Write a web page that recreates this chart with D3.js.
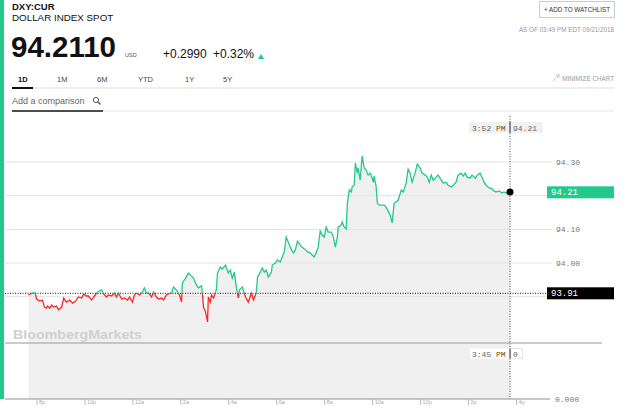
<!DOCTYPE html>
<html>
<head>
<meta charset="utf-8">
<script src="https://cdn.jsdelivr.net/npm/d3@7"></script>
<style>
  body { margin: 0; background: #fff; }
  svg { display: block; font-family: "Liberation Sans", Arial, sans-serif; }
</style>
</head>
<body>
<script>
const width = 640;
const height = 415;

// minutes after 8:00 PM on 09/20/2018
const minutes = [
  -20, -10, -3, 0, 8, 15, 20, 25, 28, 33, 38, 43, 50, 55, 63, 68, 75, 83, 90, 98,
  105, 113, 118, 125, 130, 138, 145, 153, 163, 168, 175, 180, 188, 195, 200, 205, 213, 220, 228, 233,
  240, 245, 250, 258, 265, 270, 275, 280, 288, 293, 300, 305, 313, 318, 325, 330, 338, 343, 350, 358,
  363, 365, 373, 380, 388, 393, 400, 405, 413, 415, 418, 423, 428, 430, 435, 438, 443, 450, 453, 460,
  465, 473, 480, 485, 490, 495, 500, 505, 508, 515, 523, 530, 538, 543, 550, 553, 560, 565, 570, 575,
  580, 588, 590, 598, 603, 610, 615, 620, 625, 630, 638, 643, 648, 653, 660, 665, 673, 678, 685, 690,
  695, 700, 705, 710, 715, 720, 725, 730, 738, 743, 748, 753, 755, 763, 765, 770, 775, 778, 783, 788,
  790, 795, 798, 803, 805, 810, 813, 815, 820, 825, 830, 835, 840, 843, 845, 850, 853, 858, 865, 870,
  875, 880, 885, 890, 895, 900, 905, 913, 918, 925, 930, 935, 940, 948, 953, 960, 965, 973, 978, 983,
  988, 993, 1000, 1005, 1013, 1018, 1025, 1030, 1038, 1043, 1050, 1055, 1063, 1068, 1073, 1078, 1085, 1090, 1098, 1103,
  1110, 1115, 1120, 1125, 1133, 1140, 1145, 1150, 1158, 1165, 1170, 1175, 1185
];

const prices = [
  93.905, 93.911, 93.911, 93.893, 93.887, 93.890, 93.869, 93.866, 93.872, 93.866, 93.875, 93.869, 93.872, 93.861, 93.869, 93.896, 93.884, 93.890, 93.881, 93.887,
  93.899, 93.896, 93.908, 93.902, 93.902, 93.890, 93.902, 93.914, 93.920, 93.908, 93.899, 93.905, 93.902, 93.911, 93.899, 93.911, 93.893, 93.896, 93.890, 93.899,
  93.884, 93.905, 93.911, 93.905, 93.914, 93.926, 93.911, 93.911, 93.899, 93.914, 93.899, 93.893, 93.896, 93.890, 93.905, 93.908, 93.911, 93.929, 93.920, 93.905,
  93.884, 93.941, 93.955, 93.970, 93.961, 93.955, 93.935, 93.926, 93.932, 93.911, 93.869, 93.855, 93.825, 93.899, 93.884, 93.905, 93.896, 93.920, 93.970, 93.988,
  93.982, 93.994, 93.970, 93.979, 93.955, 93.973, 93.929, 93.896, 93.920, 93.929, 93.899, 93.884, 93.911, 93.890, 93.911, 93.958, 93.973, 93.985, 93.973, 93.979,
  93.958, 93.973, 93.994, 94.000, 94.009, 94.003, 94.018, 94.033, 94.077, 94.062, 94.039, 94.030, 94.039, 94.065, 94.053, 94.047, 94.039, 94.033, 94.030, 94.024,
  94.018, 94.030, 94.047, 94.095, 94.083, 94.077, 94.107, 94.092, 94.092, 94.077, 94.047, 94.077, 94.107, 94.113, 94.122, 94.107, 94.101, 94.178, 94.217, 94.211,
  94.226, 94.231, 94.297, 94.267, 94.282, 94.246, 94.291, 94.318, 94.282, 94.276, 94.261, 94.267, 94.252, 94.240, 94.258, 94.226, 94.178, 94.172, 94.172, 94.172,
  94.166, 94.154, 94.142, 94.119, 94.178, 94.181, 94.187, 94.217, 94.211, 94.237, 94.279, 94.267, 94.240, 94.270, 94.294, 94.282, 94.267, 94.261, 94.255, 94.240,
  94.261, 94.246, 94.255, 94.261, 94.246, 94.237, 94.240, 94.231, 94.226, 94.231, 94.240, 94.261, 94.267, 94.258, 94.267, 94.255, 94.252, 94.261, 94.252, 94.261,
  94.267, 94.255, 94.240, 94.231, 94.223, 94.220, 94.214, 94.211, 94.214, 94.208, 94.211, 94.208, 94.211
];

const previousClose = 93.91;
const lastPrice = 94.21;
const priceTicks = [93.9, 94.0, 94.1, 94.2, 94.3];
const tabs = ["1D", "1M", "6M", "YTD", "1Y", "5Y"];
const tabX = [18, 57, 97, 138, 185, 223];

const start = new Date(2018, 8, 20, 20, 0);
const datos = minutes.map((m, i) => ({ t: d3.timeMinute.offset(start, m), p: prices[i] }));
const cursorTime = new Date(2018, 8, 21, 15, 45);

const green = "#22c98b";
const red = "#ff2424";

const svg = d3.select("body").append("svg").attr("width", width).attr("height", height);

const x = d3
  .scaleTime()
  .domain([new Date(2018, 8, 20, 20, 0), new Date(2018, 8, 21, 16, 0)])
  .range([36.5, 516]);

const y = d3.scaleLinear().domain([94.0, 94.3]).range([263, 162]);

const axisY = 399;
const cx = x(cursorTime);
const yClose = y(previousClose);

// left accent bar
svg.append("rect").attr("x", 0).attr("y", 0).attr("width", 4).attr("height", axisY).attr("fill", green);

// ---- header ----
svg.append("text").attr("x", 12).attr("y", 10).attr("font-size", 9.5).attr("font-weight", "bold").attr("fill", "#111").text("DXY:CUR");
svg.append("text").attr("x", 12).attr("y", 21).attr("font-size", 9.8).attr("fill", "#111").text("DOLLAR INDEX SPOT");
svg.append("text").attr("x", 11).attr("y", 57).attr("font-size", 29.5).attr("font-weight", "bold").attr("fill", "#111").text("94.2110");
svg.append("text").attr("x", 125).attr("y", 57).attr("font-size", 5.5).attr("fill", "#555").text("USD");
svg.append("text").attr("x", 163).attr("y", 58).attr("font-size", 12).attr("fill", "#111").text("+0.2990");
svg.append("text").attr("x", 213).attr("y", 58).attr("font-size", 12).attr("fill", "#111").text("+0.32%");
svg.append("path").attr("d", "M258,59L261,54L264,59Z").attr("fill", green);

svg.append("rect").attr("x", 539.5).attr("y", 1.5).attr("width", 75).attr("height", 16)
  .attr("fill", "#fff").attr("stroke", "#ccc");
svg.append("text").attr("x", 577).attr("y", 12).attr("text-anchor", "middle").attr("font-size", 6.3).attr("fill", "#333").text("+ ADD TO WATCHLIST");
svg.append("text").attr("x", 614).attr("y", 32).attr("text-anchor", "end").attr("font-size", 6.3).attr("fill", "#999").text("AS OF 03:49 PM EDT 09/21/2018");

svg.selectAll(".tab").data(tabs).enter().append("text")
  .attr("x", (d, i) => tabX[i]).attr("y", 82).attr("font-size", 7.5)
  .attr("fill", (d, i) => (i === 0 ? "#111" : "#444"))
  .attr("font-weight", (d, i) => (i === 0 ? "bold" : "normal"))
  .text((d) => d);

svg.append("text").attr("x", 614).attr("y", 81).attr("text-anchor", "end").attr("font-size", 6.3).attr("fill", "#999").text("MINIMIZE CHART");
svg.append("path").attr("d", "M553,81L556,78M557,77L560,74M557,74L557,77L560,77").attr("stroke", "#aaa").attr("stroke-width", 0.7).attr("fill", "none");

svg.append("line").attr("x1", 33).attr("x2", 614).attr("y1", 88).attr("y2", 88).attr("stroke", "#ddd");
svg.append("line").attr("x1", 12).attr("x2", 33).attr("y1", 88).attr("y2", 88).attr("stroke", "#111").attr("stroke-width", 2);

svg.append("text").attr("x", 12).attr("y", 104).attr("font-size", 9).attr("fill", "#666").text("Add a comparison");
svg.append("circle").attr("cx", 96).attr("cy", 100).attr("r", 2.6).attr("fill", "none").attr("stroke", "#555").attr("stroke-width", 1);
svg.append("line").attr("x1", 98).attr("y1", 102).attr("x2", 100.5).attr("y2", 104.5).attr("stroke", "#555").attr("stroke-width", 1.2);

svg.append("line").attr("x1", 103).attr("x2", 614).attr("y1", 111).attr("y2", 111).attr("stroke", "#e5e5e5");
svg.append("line").attr("x1", 12).attr("x2", 103).attr("y1", 111).attr("y2", 111).attr("stroke", "#111").attr("stroke-width", 1.5);

// ---- chart ----
svg.append("path")
  .datum(datos.filter((d) => d.t <= cursorTime))
  .attr("fill", "#f0f0f0")
  .attr("d", d3.area().x((d) => x(d.t)).y0(axisY).y1((d) => y(d.p)));

svg.selectAll(".grid").data(priceTicks).enter().append("line")
  .attr("x1", 5).attr("x2", 552).attr("y1", (d) => y(d)).attr("y2", (d) => y(d))
  .attr("stroke", "#e3e3e3");

// labels hidden behind the price flags are left out
svg.selectAll(".ylabel")
  .data(priceTicks.filter((d) => Math.abs(y(d) - y(lastPrice)) > 10 && Math.abs(y(d) - yClose) > 10))
  .enter().append("text")
  .attr("x", 556).attr("y", (d) => y(d) + 3)
  .attr("font-family", "Liberation Mono, monospace").attr("font-size", 8).attr("fill", "#777")
  .text((d) => d.toFixed(2));

svg.append("text").attr("x", 13).attr("y", 339).attr("font-size", 13.5).attr("font-weight", "bold")
  .attr("fill", "#d0d0d0").attr("textLength", 129).attr("lengthAdjust", "spacingAndGlyphs").text("BloombergMarkets");

// previous close
svg.append("line").attr("x1", 5).attr("x2", 547).attr("y1", yClose).attr("y2", yClose)
  .attr("stroke", "#111").attr("stroke-dasharray", "1,1.5");

const defs = svg.append("defs");
defs.append("clipPath").attr("id", "arriba").append("rect").attr("x", 0).attr("y", 0).attr("width", width).attr("height", yClose);
defs.append("clipPath").attr("id", "abajo").append("rect").attr("x", 0).attr("y", yClose).attr("width", width).attr("height", height - yClose);

const linea = d3.line().x((d) => x(d.t)).y((d) => y(d.p));
[["arriba", green], ["abajo", red]].forEach(([id, color]) => {
  svg.append("path").datum(datos).attr("d", linea).attr("fill", "none")
    .attr("stroke", color).attr("stroke-width", 1.3).attr("clip-path", `url(#${id})`);
});

// lower panel separator and x axis
svg.append("line").attr("x1", 5).attr("x2", 602).attr("y1", 343).attr("y2", 343).attr("stroke", "#999");
svg.append("line").attr("x1", 5).attr("x2", 550).attr("y1", axisY).attr("y2", axisY).attr("stroke", "#b5b5b5").attr("stroke-width", 1.5);

const ejeX = svg.append("g").attr("transform", `translate(0,${axisY})`)
  .call(
    d3.axisBottom(x)
      .ticks(d3.timeHour.every(2))
      .tickSize(6)
      .tickFormat((d) => (d.getHours() % 12 || 12) + (d.getHours() < 12 ? "a" : "p"))
  );
ejeX.select(".domain").remove();
ejeX.selectAll("line").attr("stroke", "#bbb");
ejeX.selectAll("text").attr("text-anchor", "start").attr("x", 2).attr("y", 1).attr("dy", "0.71em")
  .attr("font-size", 5.5).attr("font-family", "Liberation Sans, Arial, sans-serif").attr("fill", "#aaa");

svg.append("text").attr("x", 555).attr("y", 402).attr("font-family", "Liberation Mono, monospace")
  .attr("font-size", 8).attr("fill", "#777").text("0.000");

// cursor
svg.append("line").attr("x1", cx).attr("x2", cx).attr("y1", 116).attr("y2", axisY)
  .attr("stroke", "#555").attr("stroke-dasharray", "1,1.5");

svg.append("rect").attr("x", 469).attr("y", 122).attr("width", 74).attr("height", 11).attr("fill", "#f1f1f1");
svg.append("line").attr("x1", cx).attr("x2", cx).attr("y1", 122).attr("y2", 133).attr("stroke", "#444").attr("stroke-width", 1.2);
const tip = svg.append("text").attr("x", 472).attr("y", 130.5).attr("font-family", "Liberation Mono, monospace").attr("font-size", 8).attr("fill", "#666");
tip.append("tspan").text("3:52 ");
tip.append("tspan").attr("fill", "#7a4a10").text("PM");
svg.append("text").attr("x", cx + 3).attr("y", 130.5).attr("font-family", "Liberation Mono, monospace").attr("font-size", 8).attr("fill", "#666").text(lastPrice.toFixed(2));

svg.append("rect").attr("x", 470).attr("y", 348.5).attr("width", 40).attr("height", 10).attr("fill", "#fff");
svg.append("rect").attr("x", cx + 0.5).attr("y", 348.5).attr("width", 12).attr("height", 10).attr("fill", "#fff").attr("stroke", "#e6e6e6");
svg.append("line").attr("x1", cx).attr("x2", cx).attr("y1", 348.5).attr("y2", 358.5).attr("stroke", "#444").attr("stroke-width", 1.2);
const tip2 = svg.append("text").attr("x", 472).attr("y", 356.5).attr("font-family", "Liberation Mono, monospace").attr("font-size", 8).attr("fill", "#666");
tip2.append("tspan").text("3:45 ");
tip2.append("tspan").attr("fill", "#7a4a10").text("PM");
svg.append("text").attr("x", cx + 3).attr("y", 356.5).attr("font-family", "Liberation Mono, monospace").attr("font-size", 8).attr("fill", "#666").text("0");

// last point and price flags
const ultimo = datos[datos.length - 1];
svg.append("circle").attr("cx", x(ultimo.t)).attr("cy", y(ultimo.p)).attr("r", 3.5).attr("fill", "#000");

svg.append("rect").attr("x", 547).attr("y", y(lastPrice) - 6).attr("width", 67).attr("height", 12).attr("fill", green);
svg.append("text").attr("x", 551).attr("y", y(lastPrice) + 3).attr("font-family", "Liberation Mono, monospace")
  .attr("font-size", 9).attr("fill", "#fff").text(lastPrice.toFixed(2));

svg.append("rect").attr("x", 547).attr("y", yClose - 6).attr("width", 67).attr("height", 12).attr("fill", "#000");
svg.append("text").attr("x", 551).attr("y", yClose + 3).attr("font-family", "Liberation Mono, monospace")
  .attr("font-size", 9).attr("fill", "#fff").text(previousClose.toFixed(2));
</script>
</body>
</html>
